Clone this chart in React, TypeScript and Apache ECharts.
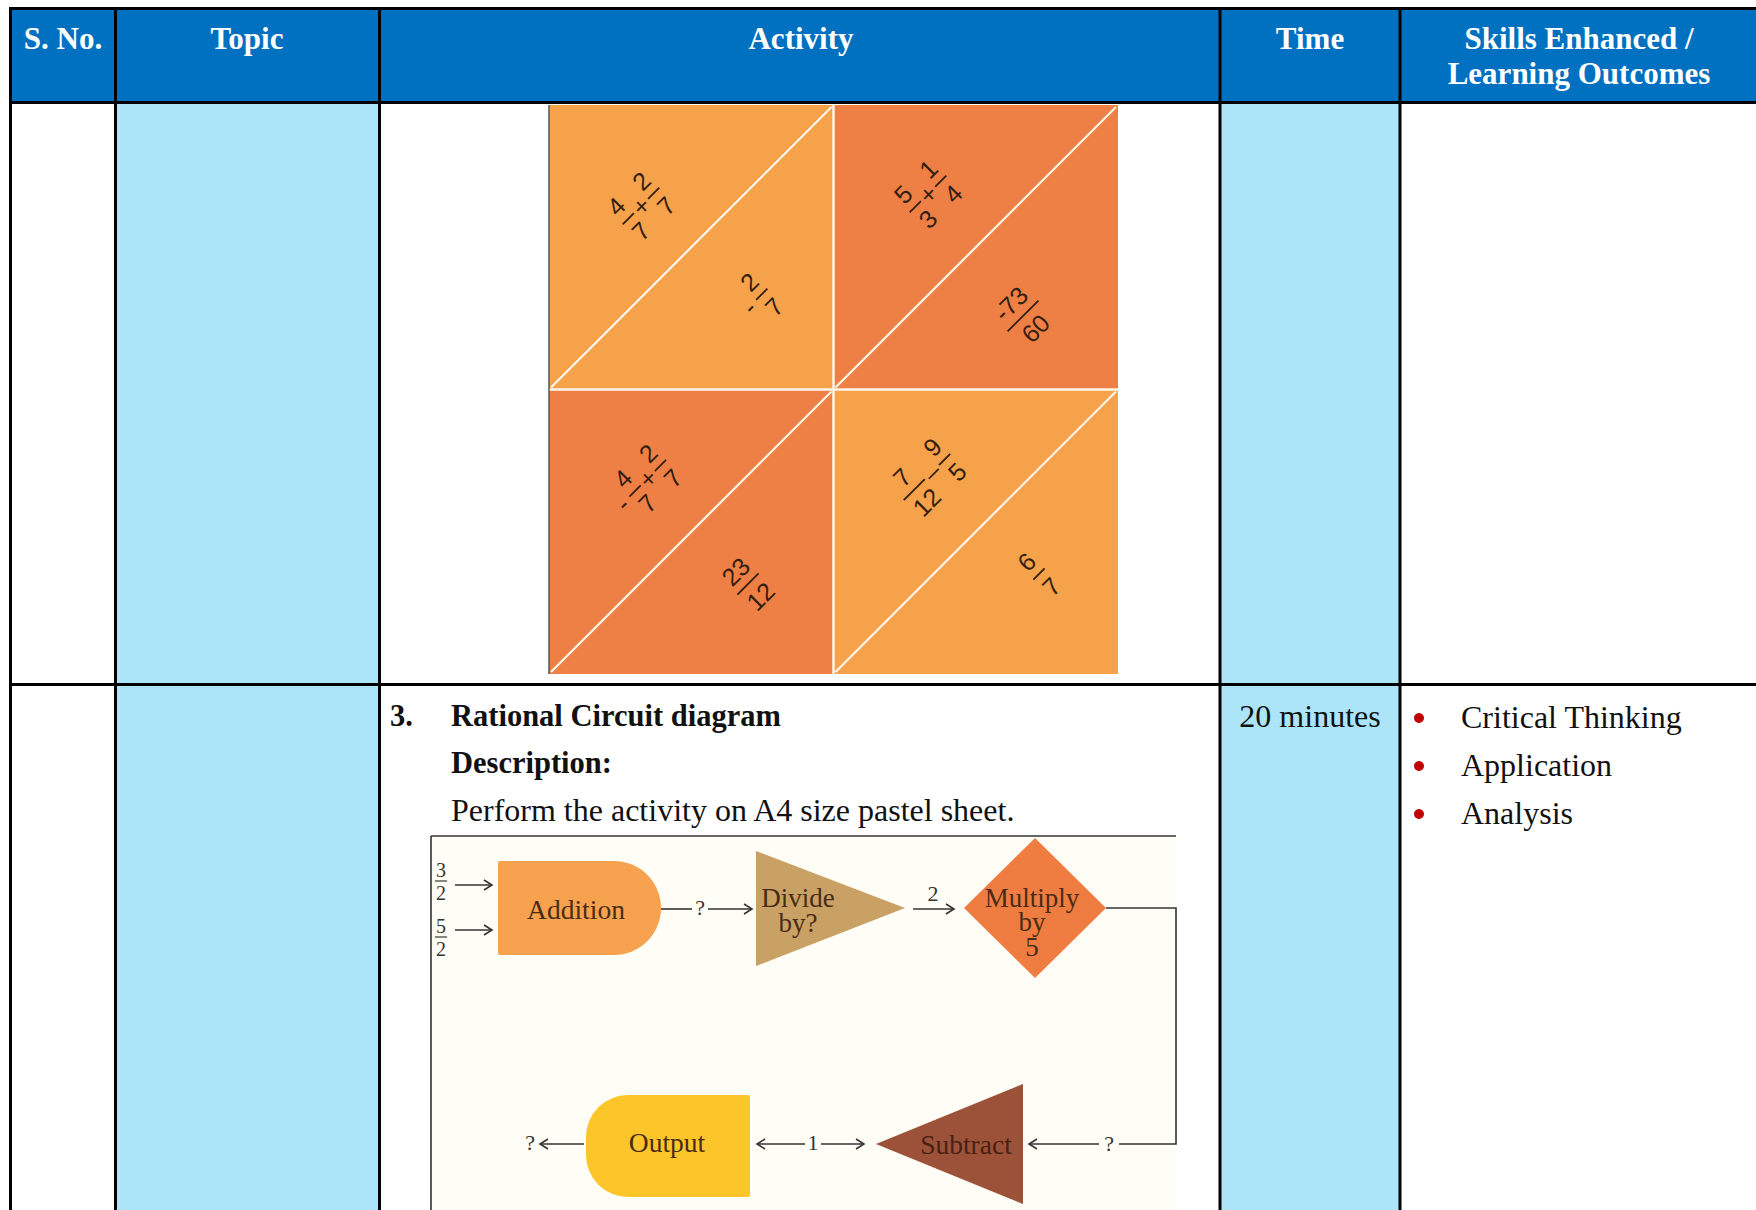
import React, { useEffect, useRef } from "react";
import * as echarts from "echarts";

// ---------- data ----------
const headerLabels = ["S. No.", "Topic", "Activity", "Time"];
const headerSkillsLines = ["Skills Enhanced /", "Learning Outcomes"];
const activityNumber = "3.";
const activityTitle = "Rational Circuit diagram";
const descriptionLabel = "Description:";
const descriptionText = "Perform the activity on A4 size pastel sheet.";
const timeText = "20 minutes";
const skills = ["Critical Thinking", "Application", "Analysis"];

type Frac = { n: string; d: string };
type Tok = Frac | string;
const puzzleTones = ["light", "dark", "dark", "light"];
const puzzleQuestions: Tok[][] = [
  [{ n: "4", d: "7" }, "+", { n: "2", d: "7" }],
  [{ n: "5", d: "3" }, "+", { n: "1", d: "4" }],
  ["-", { n: "4", d: "7" }, "+", { n: "2", d: "7" }],
  [{ n: "7", d: "12" }, "–", { n: "9", d: "5" }],
];
const puzzleAnswers: Tok[][] = [
  ["-", { n: "2", d: "7" }],
  [{ n: "-73", d: "60" }],
  [{ n: "23", d: "12" }],
  [{ n: "6", d: "7" }],
];

const circuitInputs: Frac[] = [
  { n: "3", d: "2" },
  { n: "5", d: "2" },
];
const additionLabel = "Addition";
const divideLabel = ["Divide", "by?"];
const multiplyLabel = ["Multiply", "by", "5"];
const subtractLabel = "Subtract";
const outputLabel = "Output";
const wireLabelAddDiv = "?";
const wireLabelDivMul = "2";
const wireLabelMulSub = "?";
const wireLabelSubOut = "1";
const wireLabelOut = "?";

// ---------- styles ----------
const SERIF = "'Liberation Serif', 'Times New Roman', serif";
const SANS = "'Liberation Sans', Arial, sans-serif";
const BLUE = "#0070C0";
const CYAN = "#ACE5F8";
const LIGHT_OR = "#F5A24B";
const DARK_OR = "#EE8046";

function txt(text: string, x: number, y: number, font: string, fill: string, align = "center", vAlign = "middle", z = 20, lineHeight?: number): any {
  const style: any = { text, font, fill, align, verticalAlign: vAlign, textAlign: align, textVerticalAlign: vAlign };
  if (lineHeight) style.lineHeight = lineHeight;
  return { type: "text", x, y, z, silent: true, style };
}
function line(x1: number, y1: number, x2: number, y2: number, stroke: string, lineWidth: number, z = 15): any {
  return { type: "line", z, silent: true, shape: { x1, y1, x2, y2 }, style: { stroke, lineWidth } };
}
function rect(x: number, y: number, width: number, height: number, fill: string, z = 1, r?: number[]): any {
  return { type: "rect", z, silent: true, shape: { x, y, width, height, r: r || 0 }, style: { fill } };
}
function arrowHead(x: number, y: number, dir: number, stroke = "#333"): any {
  return {
    type: "polyline",
    z: 16,
    silent: true,
    shape: { points: [[x - dir * 8, y - 5], [x, y], [x - dir * 8, y + 5]] },
    style: { stroke, lineWidth: 1.6, fill: "none" },
  };
}

function exprGroup(tokens: Tok[], cx: number, cy: number): any {
  const fs = 25;
  const font = `${fs}px ${SANS}`;
  const fill = "#341e10";
  const dw = fs * 0.556;
  const gap = fs * 0.15;
  const items = tokens.map((t) =>
    typeof t === "string" ? { t, w: fs * 0.5 } : { t, w: Math.max(t.n.length, t.d.length) * dw + 2 }
  );
  const total = items.reduce((s, i) => s + i.w, 0) + gap * (items.length - 1);
  let x = -total / 2;
  const children: any[] = [];
  items.forEach((it) => {
    const c = x + it.w / 2;
    if (typeof it.t === "string") {
      children.push(txt(it.t, c, 0, font, fill, "center", "middle", 12));
    } else {
      children.push(txt(it.t.n, c, -fs * 0.7, font, fill, "center", "middle", 12));
      children.push(line(c - it.w / 2, 0, c + it.w / 2, 0, fill, 1.8, 12));
      children.push(txt(it.t.d, c, fs * 0.7, font, fill, "center", "middle", 12));
    }
    x += it.w + gap;
  });
  return { type: "group", x: cx, y: cy, rotation: Math.PI / 4, children };
}

function buildElements(): any[] {
  const els: any[] = [];
  // background
  els.push(rect(0, 0, 1756, 1210, "#ffffff", 0));
  // header
  els.push(rect(10, 8, 1746, 95, BLUE, 1));
  // cyan columns
  els.push(rect(115, 102, 265, 1108, CYAN, 1));
  els.push(rect(1220, 102, 180, 1108, CYAN, 1));

  // header texts
  const hFont = `bold 31px ${SERIF}`;
  const hX = [63, 247, 801, 1310];
  headerLabels.forEach((h, i) => els.push(txt(h, hX[i], 38, hFont, "#ffffff")));
  headerSkillsLines.forEach((h, i) => els.push(txt(h, 1579, 38 + i * 35, hFont, "#ffffff")));

  // ---------- puzzle ----------
  const px0 = 549, py0 = 105, ps = 284.5;
  const qCenters = [
    [641, 206],
    [928, 194],
    [642, 484],
    [927, 477],
  ];
  const aCenters = [
    [756, 300],
    [1023, 316],
    [748, 584],
    [1039, 574],
  ];
  puzzleTones.forEach((tone, i) => {
    const sx = px0 + (i % 2) * ps;
    const sy = py0 + Math.floor(i / 2) * ps;
    els.push(rect(sx, sy, ps, ps, tone === "light" ? LIGHT_OR : DARK_OR, 3));
    els.push(line(sx + 2, sy + ps - 2, sx + ps - 2, sy + 2, "#FFF6EA", 2.2, 4));
    els.push(exprGroup(puzzleQuestions[i], qCenters[i][0], qCenters[i][1]));
    els.push(exprGroup(puzzleAnswers[i], aCenters[i][0], aCenters[i][1]));
  });
  els.push(line(px0 + ps, py0, px0 + ps, py0 + 2 * ps, "#FFF6EA", 2.5, 5));
  els.push(line(px0, py0 + ps, px0 + 2 * ps, py0 + ps, "#FFF6EA", 2.5, 5));
  els.push(line(px0, py0, px0, py0 + 2 * ps, "#555", 1.5, 5));

  // ---------- activity text ----------
  const bFont = `bold 30.5px ${SERIF}`;
  const rFont = `32px ${SERIF}`;
  els.push(txt(activityNumber, 390, 716, bFont, "#111", "left"));
  els.push(txt(activityTitle, 451, 716, bFont, "#111", "left"));
  els.push(txt(descriptionLabel, 451, 763, bFont, "#111", "left"));
  els.push(txt(descriptionText, 451, 810, rFont, "#111", "left"));
  els.push(txt(timeText, 1310, 716, rFont, "#111"));
  skills.forEach((s, i) => {
    const y = 717 + i * 48;
    els.push({ type: "circle", z: 20, silent: true, shape: { cx: 1419, cy: y + 1, r: 5 }, style: { fill: "#C00000" } });
    els.push(txt(s, 1461, y, rFont, "#111", "left"));
  });

  // ---------- circuit ----------
  const wire = "#333";
  els.push(rect(431, 836, 745, 374, "#FFFEF6", 2));
  els.push(line(431, 836, 1176, 836, "#333", 1.6));
  els.push(line(431, 836, 431, 1210, "#333", 1.6));

  const smallFont = `20px ${SERIF}`;
  circuitInputs.forEach((f, i) => {
    const cy = 881 + i * 56;
    els.push(txt(f.n, 441, cy - 11, smallFont, "#333"));
    els.push(line(435, cy, 447, cy, "#333", 1.2));
    els.push(txt(f.d, 441, cy + 12, smallFont, "#333"));
    const ay = 885 + i * 45;
    els.push(line(455, ay, 492, ay, wire, 1.6));
    els.push(arrowHead(492, ay, 1));
  });

  const labFont = `27.5px ${SERIF}`;
  const labFill = "#4a2c14";
  const wFont = `22px ${SERIF}`;
  // Addition
  els.push(rect(498, 861, 163, 94, "#F6A24E", 6, [2, 47, 47, 2]));
  els.push(txt(additionLabel, 576, 909, labFont, labFill));
  // wire to divide
  els.push(line(661, 909, 692, 909, wire, 1.6));
  els.push(txt(wireLabelAddDiv, 700, 907, wFont, "#333"));
  els.push(line(708, 909, 752, 909, wire, 1.6));
  els.push(arrowHead(752, 909, 1));
  // Divide triangle
  els.push({ type: "polygon", z: 6, silent: true, shape: { points: [[756, 851], [756, 966], [905, 908]] }, style: { fill: "#C9A165" } });
  els.push(txt(divideLabel.join("\n"), 798, 910, `27px ${SERIF}`, labFill, "center", "middle", 20, 25));
  // wire to multiply
  els.push(line(913, 909, 954, 909, wire, 1.6));
  els.push(arrowHead(954, 909, 1));
  els.push(txt(wireLabelDivMul, 933, 893, wFont, "#333"));
  // Multiply diamond
  els.push({ type: "polygon", z: 6, silent: true, shape: { points: [[1035, 838], [1106, 908], [1035, 978], [964, 908]] }, style: { fill: "#EF7D41" } });
  els.push(txt(multiplyLabel.join("\n"), 1032, 922, `27px ${SERIF}`, labFill, "center", "middle", 20, 24.5));
  // loop wire
  els.push({ type: "polyline", z: 15, silent: true, shape: { points: [[1106, 908], [1176, 908], [1176, 1144], [1119, 1144]] }, style: { stroke: wire, lineWidth: 1.6, fill: "none" } });
  els.push(txt(wireLabelMulSub, 1109, 1143, wFont, "#333"));
  els.push(line(1099, 1144, 1029, 1144, wire, 1.6));
  els.push(arrowHead(1029, 1144, -1));
  // Subtract triangle
  els.push({ type: "polygon", z: 6, silent: true, shape: { points: [[876, 1144], [1023, 1084], [1023, 1204]] }, style: { fill: "#9C5239" } });
  els.push(txt(subtractLabel, 966, 1144, labFont, "#4a2012"));
  // between output and subtract
  els.push(line(757, 1144, 805, 1144, wire, 1.6));
  els.push(arrowHead(757, 1144, -1));
  els.push(txt(wireLabelSubOut, 813, 1142, wFont, "#333"));
  els.push(line(821, 1144, 864, 1144, wire, 1.6));
  els.push(arrowHead(864, 1144, 1));
  // Output
  els.push(rect(586, 1095, 164, 102, "#FCC52A", 6, [42, 2, 2, 42]));
  els.push(txt(outputLabel, 667, 1142, labFont, labFill));
  els.push(line(584, 1144, 540, 1144, wire, 1.6));
  els.push(arrowHead(540, 1144, -1));
  els.push(txt(wireLabelOut, 530, 1142, wFont, "#333"));

  // ---------- table borders ----------
  const B = "#000";
  const bw = 3;
  els.push(line(9, 8.5, 1756, 8.5, B, bw, 30));
  els.push(line(9, 102.5, 1756, 102.5, B, bw, 30));
  els.push(line(9, 684.5, 1756, 684.5, B, bw, 30));
  [10.5, 115.5, 379.5, 1220, 1400].forEach((x) => els.push(line(x, 7, x, 1210, B, bw, 30)));

  return els;
}

export default function App() {
  const ref = useRef<HTMLDivElement>(null);
  useEffect(() => {
    const chart = echarts.init(ref.current!, null, { renderer: "svg" });
    chart.setOption({ animation: false, graphic: { elements: buildElements() } });
    return () => chart.dispose();
  }, []);
  return (
    <div
      ref={ref}
      style={{ position: "fixed", left: 0, top: 0, width: 1756, height: 1210, background: "#fff" }}
    />
  );
}
